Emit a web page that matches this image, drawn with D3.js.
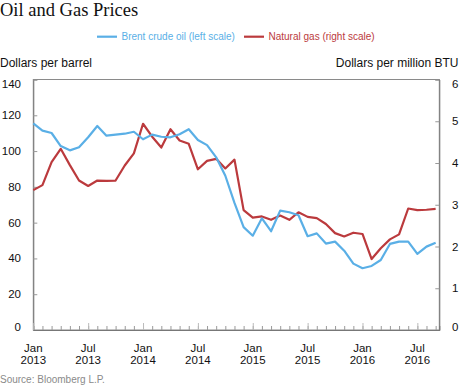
<!DOCTYPE html>
<html>
<head>
<meta charset="utf-8">
<script src="https://cdn.jsdelivr.net/npm/d3@7"></script>
<style>
  html, body { margin: 0; padding: 0; background: #fff; }
  svg { display: block; }
  text { font-family: "Liberation Sans", Arial, sans-serif; }
</style>
</head>
<body>
<svg id="chart" width="460" height="386"></svg>
<script>
// ---- data (monthly, Jan 2013 – Sep 2016) ----
const months = [
  "2013-01","2013-02","2013-03","2013-04","2013-05","2013-06","2013-07","2013-08","2013-09","2013-10","2013-11","2013-12",
  "2014-01","2014-02","2014-03","2014-04","2014-05","2014-06","2014-07","2014-08","2014-09","2014-10","2014-11","2014-12",
  "2015-01","2015-02","2015-03","2015-04","2015-05","2015-06","2015-07","2015-08","2015-09","2015-10","2015-11","2015-12",
  "2016-01","2016-02","2016-03","2016-04","2016-05","2016-06","2016-07","2016-08","2016-09"
];
const brent = [115.5,111.4,110.1,102.8,100.4,102.1,107.7,114.0,108.6,109.2,109.7,110.8,
               106.6,109.2,108.0,107.7,109.4,112.2,106.2,103.3,96.5,86.2,71.0,57.5,
               52.7,62.4,55.2,66.7,65.8,64.1,52.4,54.0,48.3,49.4,44.3,37.1,
               34.5,35.8,39.1,48.1,49.4,49.4,42.5,46.6,48.8];
const gas = [3.35,3.47,4.02,4.34,3.95,3.58,3.45,3.58,3.57,3.58,3.94,4.23,
             4.94,4.63,4.37,4.81,4.54,4.46,3.85,4.05,4.10,3.87,4.08,2.87,
             2.69,2.72,2.64,2.74,2.64,2.82,2.71,2.68,2.54,2.32,2.24,2.33,
             2.30,1.70,1.96,2.17,2.29,2.91,2.87,2.88,2.90];
const leftTicks = [0,20,40,60,80,100,120,140];
const rightTicks = [0,1,2,3,4,5,6];
const majorMonths = [0,6,12,18,24,30,36,42];
const majorLabels = [["Jan","2013"],["Jul","2013"],["Jan","2014"],["Jul","2014"],
                     ["Jan","2015"],["Jul","2015"],["Jan","2016"],["Jul","2016"]];
const seriesNames = ["Brent crude oil (left scale)","Natural gas (right scale)"];
const colors = ["#5aafe6","#bb3a3d"];

// ---- layout ----
const svg = d3.select("#chart");
const L = 33.3, R = 439.3, T = 79.5, B = 330;

const x = d3.scaleLinear().domain([0, 44.4]).range([L, R]);
const yL = d3.scaleLinear().domain([0, 140]).range([B, T]);
const yR = d3.scaleLinear().domain([0, 6]).range([B, T]);

// title
svg.append("text").attr("x", 0).attr("y", 16)
  .style("font-family", "'Liberation Serif', 'DejaVu Serif', serif")
  .style("font-size", "18.5px").attr("fill", "#111").text("Oil and Gas Prices");

// legend
const leg = [{x1: 97, tx: 121.5}, {x1: 244, tx: 268.5}];
leg.forEach((d, i) => {
  svg.append("line").attr("x1", d.x1).attr("x2", d.x1 + 20).attr("y1", 36.7).attr("y2", 36.7)
    .attr("stroke", colors[i]).attr("stroke-width", 2.2);
  svg.append("text").attr("x", d.tx).attr("y", 40.2).style("font-size", "10px")
    .attr("fill", colors[i]).text(seriesNames[i]);
});

// axis titles
svg.append("text").attr("x", 0).attr("y", 66.5).style("font-size", "12px").attr("fill", "#111")
  .text("Dollars per barrel");
svg.append("text").attr("x", 458.5).attr("y", 66.5).attr("text-anchor", "end")
  .style("font-size", "12px").attr("fill", "#111").text("Dollars per million BTU");

// frame
svg.append("rect").attr("x", L).attr("y", T).attr("width", R - L).attr("height", B - T)
  .attr("fill", "none").attr("stroke", "#8a8a8a").attr("stroke-width", 1);

// left axis
const gL = svg.append("g").attr("transform", `translate(${L},0)`)
  .call(d3.axisRight(yL).tickValues(leftTicks).tickSize(4).tickFormat(""));
gL.select(".domain").attr("stroke", "#777");
gL.selectAll(".tick line").attr("stroke", "#999");
svg.append("g").selectAll("text").data(leftTicks).join("text")
  .attr("x", 21).attr("y", d => yL(d) + 4 + (d === 140 ? 4.5 : d === 0 ? -3 : 0))
  .attr("text-anchor", "end").style("font-size", "11.5px").attr("fill", "#111").text(d => d);

// right axis
const gR = svg.append("g").attr("transform", `translate(${R},0)`)
  .call(d3.axisLeft(yR).tickValues(rightTicks).tickSize(4).tickFormat(""));
gR.select(".domain").attr("stroke", "#777");
gR.selectAll(".tick line").attr("stroke", "#999");
svg.append("g").selectAll("text").data(rightTicks).join("text")
  .attr("x", 452).attr("y", d => yR(d) + 4 + (d === 6 ? 4.5 : d === 0 ? -3 : 0))
  .attr("text-anchor", "start").style("font-size", "11.5px").attr("fill", "#111").text(d => d);

// bottom axis: minor monthly ticks
const gB = svg.append("g").attr("transform", `translate(0,${B})`)
  .call(d3.axisTop(x).tickValues(d3.range(months.length)).tickSize(4).tickFormat(""));
gB.select(".domain").attr("stroke", "#777");
gB.selectAll(".tick line").attr("stroke", "#9a9a9a");
// major ticks
const gM = svg.append("g").attr("transform", `translate(0,${B})`)
  .call(d3.axisTop(x).tickValues(majorMonths).tickSize(7).tickFormat(""));
gM.select(".domain").remove();
gM.selectAll(".tick line").attr("stroke", "#bbbbbb");
// major labels
const lab = svg.append("g").selectAll("text").data(majorMonths).join("text")
  .attr("text-anchor", "middle").style("font-size", "11.5px").attr("fill", "#111");
lab.append("tspan").attr("x", d => x(d)).attr("y", 352).text((d, i) => majorLabels[i][0]);
lab.append("tspan").attr("x", d => x(d)).attr("y", 364).text((d, i) => majorLabels[i][1]);

// lines
const lineL = d3.line().x((d, i) => x(i)).y(d => yL(d));
const lineR = d3.line().x((d, i) => x(i)).y(d => yR(d));
svg.append("path").datum(gas).attr("d", lineR).attr("fill", "none")
  .attr("stroke", colors[1]).attr("stroke-width", 2.2).attr("stroke-linejoin", "round");
svg.append("path").datum(brent).attr("d", lineL).attr("fill", "none")
  .attr("stroke", colors[0]).attr("stroke-width", 2.2).attr("stroke-linejoin", "round");

// source
svg.append("text").attr("x", 0).attr("y", 382.5).style("font-size", "10px").attr("fill", "#8a8a8a")
  .text("Source: Bloomberg L.P.");
</script>
</body>
</html>
